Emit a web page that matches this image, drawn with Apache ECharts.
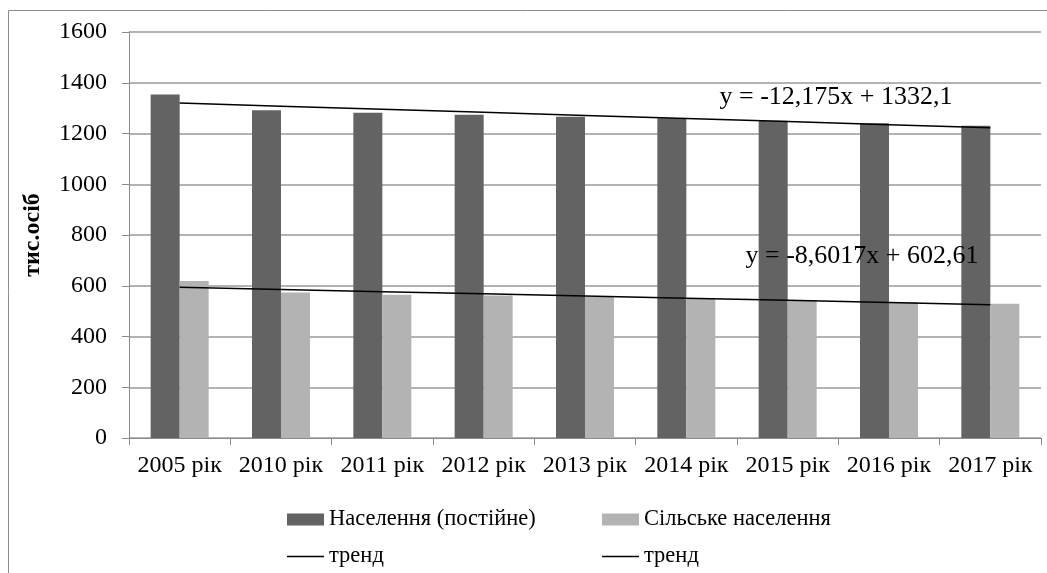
<!DOCTYPE html>
<html>
<head>
<meta charset="utf-8">
<title>Населення</title>
<script src="https://cdn.jsdelivr.net/npm/echarts@6/dist/echarts.min.js"></script>
<style>
  html, body { margin: 0; padding: 0; background: #fff; }
  #chart { width: 1047px; height: 573px; }
</style>
</head>
<body>
<div id="chart"></div>
<script>
// категорії (роки)
const years = ['2005 рік', '2010 рік', '2011 рік', '2012 рік', '2013 рік', '2014 рік', '2015 рік', '2016 рік', '2017 рік']

// значення, тис. осіб
const population = [1354, 1292, 1282, 1274, 1266, 1260, 1250, 1240, 1231]
const rural = [619, 573, 565, 562, 557, 548, 541, 536, 529]

// лінії тренду
const trendPopulation = [1319.9, 1307.8, 1295.6, 1283.4, 1271.2, 1259.0, 1246.9, 1234.7, 1222.5]
const trendRural = [594.0, 585.4, 576.8, 568.2, 559.6, 551.0, 542.4, 533.8, 525.2]

// підписи рівнянь
const eqPopulation = 'y = -12,175x + 1332,1'
const eqRural = 'y = -8,6017x + 602,61'

const font = 'Liberation Serif'
const chart = echarts.init(document.getElementById('chart'))

const legendBase = {
  orient: 'horizontal',
  padding: 0,
  itemWidth: 37,
  itemHeight: 12,
  selectedMode: false,
  textStyle: { fontFamily: font, fontSize: 22.5, color: '#000' }
}

chart.setOption({
  animation: false,
  backgroundColor: '#fff',
  textStyle: { fontFamily: font },
  grid: { left: 129, top: 32, width: 912, height: 406, containLabel: false },
  legend: [
    Object.assign({}, legendBase, { left: 287, top: 508, icon: 'rect', data: ['Населення (постійне)'] }),
    Object.assign({}, legendBase, { left: 602, top: 508, icon: 'rect', data: ['Сільське населення'] }),
    Object.assign({}, legendBase, { left: 287, top: 545, icon: 'rect', itemHeight: 1.5, data: ['тренд'] }),
    Object.assign({}, legendBase, { left: 602, top: 545, icon: 'rect', itemHeight: 1.5, data: ['тренд '] })
  ],
  xAxis: {
    type: 'category',
    data: years,
    axisLine: { lineStyle: { color: '#8c8c8c', width: 1 } },
    axisTick: { show: true, length: 7, lineStyle: { color: '#8c8c8c' } },
    axisLabel: { fontFamily: font, fontSize: 24, color: '#000', margin: 16, interval: 0 }
  },
  yAxis: {
    type: 'value',
    min: 0,
    max: 1600,
    interval: 200,
    name: 'тис.осіб',
    nameLocation: 'middle',
    nameGap: 84,
    nameTextStyle: { fontFamily: font, fontSize: 24, fontWeight: 'bold', color: '#000' },
    axisLine: { show: true, lineStyle: { color: '#8c8c8c', width: 1 } },
    axisTick: { show: true, length: 7, inside: false, lineStyle: { color: '#8c8c8c' } },
    axisLabel: {
      fontFamily: font,
      fontSize: 24,
      color: '#000',
      margin: 22,
      formatter: function (v) { return String(v) }
    },
    splitLine: { lineStyle: { color: '#9a9a9a', width: 1.5 } }
  },
  series: [
    {
      name: 'Населення (постійне)',
      type: 'bar',
      data: population,
      barWidth: 29,
      barGap: '0%',
      itemStyle: { color: '#636363' }
    },
    {
      name: 'Сільське населення',
      type: 'bar',
      data: rural,
      barWidth: 29,
      barGap: '0%',
      itemStyle: { color: '#b3b3b3' }
    },
    {
      name: 'тренд',
      type: 'line',
      data: trendPopulation,
      symbol: 'none',
      lineStyle: { color: '#000', width: 1.5 },
      itemStyle: { color: '#000' },
      z: 5
    },
    {
      name: 'тренд ',
      type: 'line',
      data: trendRural,
      symbol: 'none',
      lineStyle: { color: '#000', width: 1.5 },
      itemStyle: { color: '#000' },
      z: 5
    }
  ],
  graphic: [
    { type: 'line', shape: { x1: 8.5, y1: 10.5, x2: 1047, y2: 10.5 }, style: { stroke: '#8c8c8c', lineWidth: 1 } },
    { type: 'line', shape: { x1: 8.5, y1: 10.5, x2: 8.5, y2: 573 }, style: { stroke: '#8c8c8c', lineWidth: 1 } },
    {
      type: 'text', x: 836, y: 97, z: 10,
      style: { text: eqPopulation, fontFamily: font, fontSize: 26, fill: '#000', align: 'center', verticalAlign: 'middle' }
    },
    {
      type: 'text', x: 862, y: 256, z: 10,
      style: { text: eqRural, fontFamily: font, fontSize: 26, fill: '#000', align: 'center', verticalAlign: 'middle' }
    }
  ]
})
</script>
</body>
</html>
